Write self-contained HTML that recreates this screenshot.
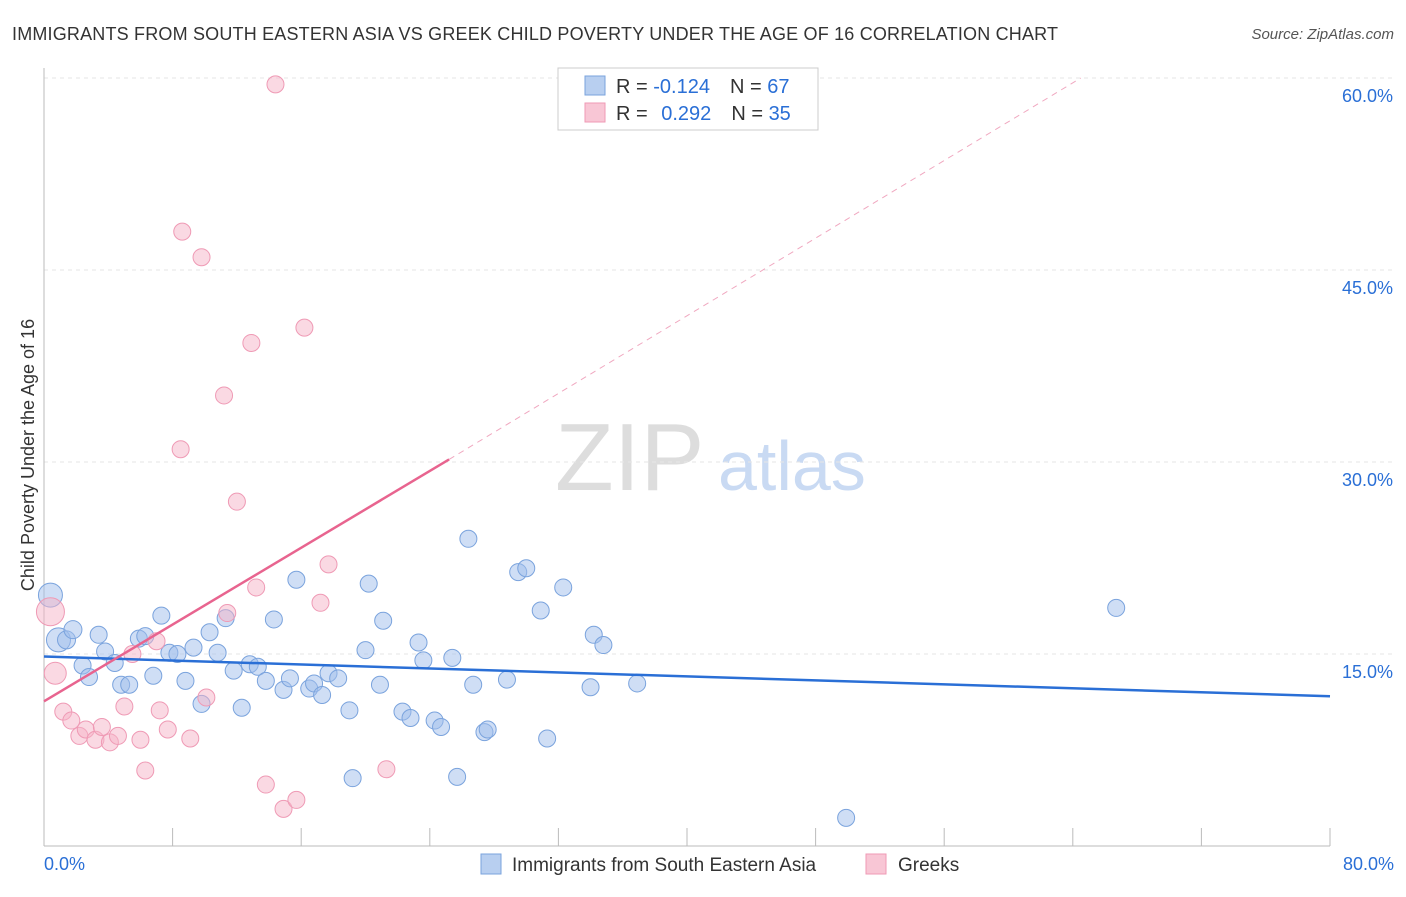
<!DOCTYPE html>
<html><head><meta charset="utf-8"><style>
body{margin:0;background:#fff;font-family:"Liberation Sans",sans-serif;}
svg text{font-family:"Liberation Sans",sans-serif;}
</style></head><body>
<svg id="chart" width="1406" height="892">
<text x="12" y="40" font-size="18" fill="#333" textLength="1046">IMMIGRANTS FROM SOUTH EASTERN ASIA VS GREEK CHILD POVERTY UNDER THE AGE OF 16 CORRELATION CHART</text>
<text x="1394" y="39" font-size="15" fill="#555" text-anchor="end" font-style="italic">Source: ZipAtlas.com</text>
<text x="34" y="455" font-size="18" fill="#333" text-anchor="middle" transform="rotate(-90 34 455)">Child Poverty Under the Age of 16</text>
<text x="555" y="490" font-size="96" fill="#ddd" font-family="Liberation Serif">ZIP</text>
<text x="718" y="490" font-size="70" fill="#c9daf3">atlas</text>
<g id="grid"></g><g id="pts"></g><g id="lines"></g>
<g>
<rect x="558" y="68" width="260" height="62" fill="#fff" stroke="#ccc"/>
<rect x="585" y="76" width="20" height="19" fill="#b8cff0" stroke="#7aa3dd"/>
<rect x="585" y="103" width="20" height="19" fill="#f8c6d5" stroke="#ef9ab5"/>
<text x="616" y="93" font-size="20" fill="#333">R = <tspan fill="#2a6fd6">-0.124</tspan><tspan dx="20">N = </tspan><tspan fill="#2a6fd6">67</tspan></text>
<text x="616" y="120" font-size="20" fill="#333">R = <tspan fill="#2a6fd6" dx="8">0.292</tspan><tspan dx="20">N = </tspan><tspan fill="#2a6fd6">35</tspan></text>
</g>
<g>
<rect x="481" y="854" width="20" height="20" fill="#b8cff0" stroke="#7aa3dd"/>
<text x="512" y="871" font-size="19" fill="#333">Immigrants from South Eastern Asia</text>
<rect x="866" y="854" width="20" height="20" fill="#f8c6d5" stroke="#ef9ab5"/>
<text x="898" y="871" font-size="19" fill="#333">Greeks</text>
</g>
</svg>
<script>
const blueX=[0.4,0.9,1.4,1.8,3.4,2.4,2.8,3.8,4.4,4.8,5.3,5.9,6.3,6.8,7.3,7.8,8.3,8.8,9.3,9.8,10.3,10.8,11.3,11.8,12.3,12.8,13.3,13.8,14.3,14.9,15.3,15.7,16.5,16.8,17.3,17.7,18.3,19.0,19.2,20.0,20.2,20.9,21.1,22.3,22.8,23.3,23.6,24.3,24.7,25.4,25.7,26.4,26.7,27.4,27.6,28.8,29.5,30.0,30.9,31.3,32.3,34.0,34.2,34.8,36.9,49.9,66.7];
const blueY=[19.6,16.1,16.1,16.9,16.5,14.1,13.2,15.2,14.3,12.6,12.6,16.2,16.4,13.3,18.0,15.1,15.0,12.9,15.5,11.1,16.7,15.1,17.8,13.7,10.8,14.2,14.0,12.9,17.7,12.2,13.1,20.8,12.3,12.7,11.8,13.5,13.1,10.6,5.3,15.3,20.5,12.6,17.6,10.5,10.0,15.9,14.5,9.8,9.3,14.7,5.4,24.0,12.6,8.9,9.1,13.0,21.4,21.7,18.4,8.4,20.2,12.4,16.5,15.7,12.7,2.2,18.6];
const pinkX=[0.4,0.7,1.2,1.7,2.2,2.6,3.2,3.6,4.1,4.6,5.0,5.5,6.0,6.3,7.0,7.2,7.7,8.5,8.6,9.1,9.8,10.1,11.2,11.4,12.0,12.9,13.2,13.8,14.4,14.9,15.7,16.2,17.2,17.7,21.3];
const pinkY=[18.3,13.5,10.5,9.8,8.6,9.1,8.3,9.3,8.1,8.6,10.9,15.0,8.3,5.9,16.0,10.6,9.1,31.0,48.0,8.4,46.0,11.6,35.2,18.2,26.9,39.3,20.2,4.8,59.5,2.9,3.6,40.5,19.0,22.0,6.0];
const blueR=[12,12,9,9,8.5,8.5,8.5,8.5,8.5,8.5,8.5,8.5,8.5,8.5,8.5,8.5,8.5,8.5,8.5,8.5,8.5,8.5,8.5,8.5,8.5,8.5,8.5,8.5,8.5,8.5,8.5,8.5,8.5,8.5,8.5,8.5,8.5,8.5,8.5,8.5,8.5,8.5,8.5,8.5,8.5,8.5,8.5,8.5,8.5,8.5,8.5,8.5,8.5,8.5,8.5,8.5,8.5,8.5,8.5,8.5,8.5,8.5,8.5,8.5,8.5,8.5,8.5];
const yTicks=[15,30,45,60];
const xTicks=[0,8,16,24,32,40,48,56,64,72,80];
const blueLine=[[0,14.8],[80,11.7]];
const pinkLine=[[0,11.3],[25.2,30.2]];
const pinkDash=[[25.2,30.2],[64.5,60]];
const X=v=>44+v/80*1286, Y=v=>846-v/15*192;
const NS="http://www.w3.org/2000/svg";
function mk(t,a,p){const e=document.createElementNS(NS,t);for(const k in a)e.setAttribute(k,a[k]);p.appendChild(e);return e;}
const g=document.getElementById('grid');
yTicks.forEach(t=>{const l=mk('line',{x1:44,x2:1394,y1:Y(t),y2:Y(t),stroke:'#e6e6e6','stroke-dasharray':'4,4'},g);


const tx=mk('text',{x:1393,y:Y(t)+24,'font-size':18,fill:'#2a6fd6','text-anchor':'end'},g);tx.textContent=t.toFixed(1)+'%';

});
mk('line',{x1:44,x2:44,y1:68,y2:846,stroke:'#bbb'},g);
mk('line',{x1:44,x2:1330,y1:846,y2:846,stroke:'#bbb'},g);
xTicks.forEach(t=>{const l=mk('line',{x1:X(t),x2:X(t),y1:828,y2:846,stroke:'#bbb'},g);

});
[[0,'start',44],[80,'end',1394]].forEach(([t,a,x])=>{const tx=mk('text',{x:x,y:870,'font-size':18,fill:'#2a6fd6','text-anchor':a},g);tx.textContent=t.toFixed(1)+'%';

});
const P=document.getElementById('pts');
blueX.forEach((x,i)=>{const c=mk('circle',{cx:X(x),cy:Y(blueY[i]),r:blueR[i],fill:'rgba(160,190,236,0.5)',stroke:'#7aa3dd','stroke-width':1},P);

});
pinkX.forEach((x,i)=>{const c=mk('circle',{cx:X(x),cy:Y(pinkY[i]),r:i==0?14:(i==1?11:8.5),fill:'rgba(245,180,200,0.5)',stroke:'#ef9ab5','stroke-width':1},P);

});
const L=document.getElementById('lines');
const bl=mk('line',{x1:X(blueLine[0][0]),y1:Y(blueLine[0][1]),x2:X(blueLine[1][0]),y2:Y(blueLine[1][1]),stroke:'#2a6fd6','stroke-width':2.5},L);


const pl=mk('line',{x1:X(pinkLine[0][0]),y1:Y(pinkLine[0][1]),x2:X(pinkLine[1][0]),y2:Y(pinkLine[1][1]),stroke:'#e8648f','stroke-width':2.5},L);


const pd=mk('line',{x1:X(pinkDash[0][0]),y1:Y(pinkDash[0][1]),x2:X(pinkDash[1][0]),y2:Y(pinkDash[1][1]),stroke:'#f0a8c0','stroke-width':1,'stroke-dasharray':'6,5'},L);


</script>
</body></html>
